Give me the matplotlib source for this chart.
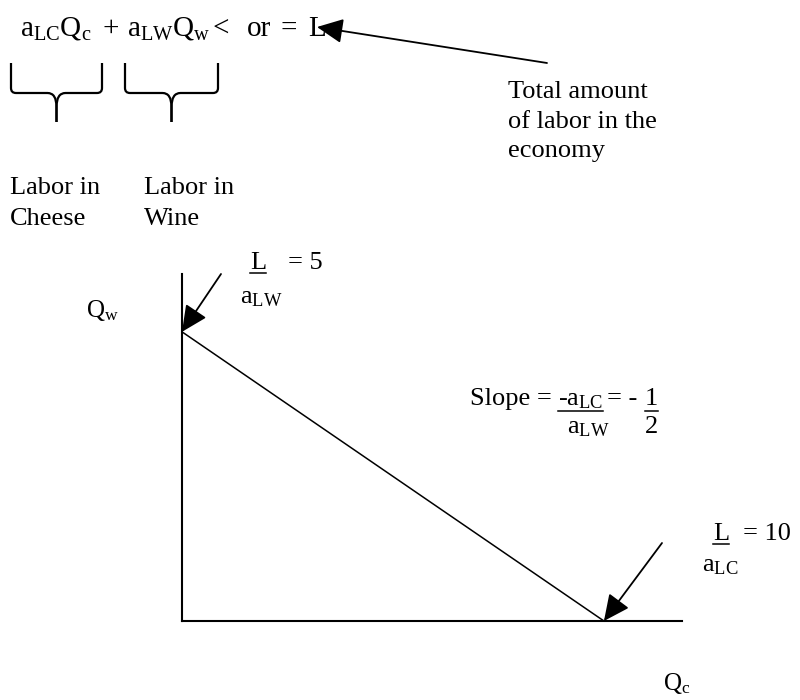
import matplotlib
matplotlib.use('Agg')
import matplotlib.pyplot as plt
from matplotlib.path import Path
from matplotlib.patches import PathPatch

plt.rcParams['font.family'] = ['Liberation Serif', 'DejaVu Serif']
plt.rcParams['mathtext.fontset'] = 'custom'
plt.rcParams['mathtext.rm'] = 'Liberation Serif'
plt.rcParams['mathtext.it'] = 'Liberation Serif'

# production possibility frontier: Qw = L/aLW = 5 at Qc = 0, Qc = L/aLC = 10 at Qw = 0
qc_points = [0, 10]
qw_points = [5, 0]
qc_max = 11.85
qw_max = 6.0

equation_parts = [r'$\mathrm{a_{LC}Q_c}$', '+', r'$\mathrm{a_{LW}Q_w}$', '<', 'or', '=', 'L']
equation_x = [20, 103, 127, 213, 247, 280, 308]

fig = plt.figure(figsize=(8, 7), dpi=100)

# the chart itself
ax = fig.add_axes([182 / 800, 79 / 700, 500 / 800, 347 / 700])
ax.plot(qc_points, qw_points, color='black', lw=1.1, clip_on=False)
ax.set_xlim(0, qc_max)
ax.set_ylim(0, qw_max)
for side in ['top', 'right']:
    ax.spines[side].set_visible(False)
for side in ['left', 'bottom']:
    ax.spines[side].set_linewidth(1.5)
ax.set_xticks([])
ax.set_yticks([])
ax.patch.set_alpha(0)

# overlay in pixel units for the notes
over = fig.add_axes([0, 0, 1, 1])
over.set_xlim(0, 800)
over.set_ylim(700, 0)
over.axis('off')
renderer = fig.canvas.get_renderer()


def put(x, y, s, size=19, underline=False, ul_off=4):
    t = over.text(x, y, s, fontsize=size, va='baseline', ha='left')
    if underline:
        w = t.get_window_extent(renderer).width
        over.plot([x, x + w], [y + ul_off, y + ul_off], color='black', lw=1.1)
    return t


def brace(x0, x1, yt, yh, yb):
    xc = (x0 + x1) / 2
    r = 5
    for sx, d in [(x0, 1), (x1, -1)]:
        verts = [(sx, yt), (sx, yh - r), (sx, yh), (sx + d * r, yh),
                 (xc - d * 9, yh), (xc, yh), (xc, yh + 14), (xc, yb)]
        codes = [Path.MOVETO, Path.LINETO, Path.CURVE3, Path.CURVE3,
                 Path.LINETO, Path.CURVE3, Path.CURVE3, Path.LINETO]
        over.add_patch(PathPatch(Path(verts, codes), fill=False, lw=1.6, color='black'))


for x, s in zip(equation_x, equation_parts):
    put(x, 36, s, size=21)

brace(11, 102, 63, 93, 122)
brace(125, 218, 63, 93, 122)

put(10, 194, 'Labor in')
put(10, 225, 'Cheese')
put(144, 194, 'Labor in')
put(144, 225, 'Wine')

put(508, 98, 'Total amount')
put(508, 128, 'of labor in the')
put(508, 157, 'economy')

arrow = dict(arrowstyle='-|>,head_length=0.8,head_width=0.38', color='black',
             lw=1.3, shrinkA=0, shrinkB=0, mutation_scale=20)
over.annotate('', xy=(317, 27), xytext=(547, 63), arrowprops=arrow)
over.annotate('', xy=(qc_points[0], qw_points[0]), xycoords=ax.transData,
              xytext=(221, 274), textcoords='data', arrowprops=arrow)
over.annotate('', xy=(qc_points[1], qw_points[1]), xycoords=ax.transData,
              xytext=(662, 543), textcoords='data', arrowprops=arrow)

put(86, 317, r'$\mathrm{Q_w}$', size=18)
put(663, 690, r'$\mathrm{Q_c}$', size=18)

put(250, 269, 'L', underline=True)
put(288, 269, '= 5')
put(240, 303, r'$\mathrm{a_{LW}}$')

put(713, 540, 'L', underline=True)
put(743, 540, '= 10')
put(702, 571, r'$\mathrm{a_{LC}}$')

put(470, 405, 'Slope =')
put(558, 405, r'-$\mathrm{a_{LC}}$', underline=True, ul_off=6)
put(607, 405, '= -')
put(645, 405, '1', underline=True, ul_off=6)
put(567, 433, r'$\mathrm{a_{LW}}$')
put(645, 433, '2')

fig.savefig('out.png', dpi=100)
